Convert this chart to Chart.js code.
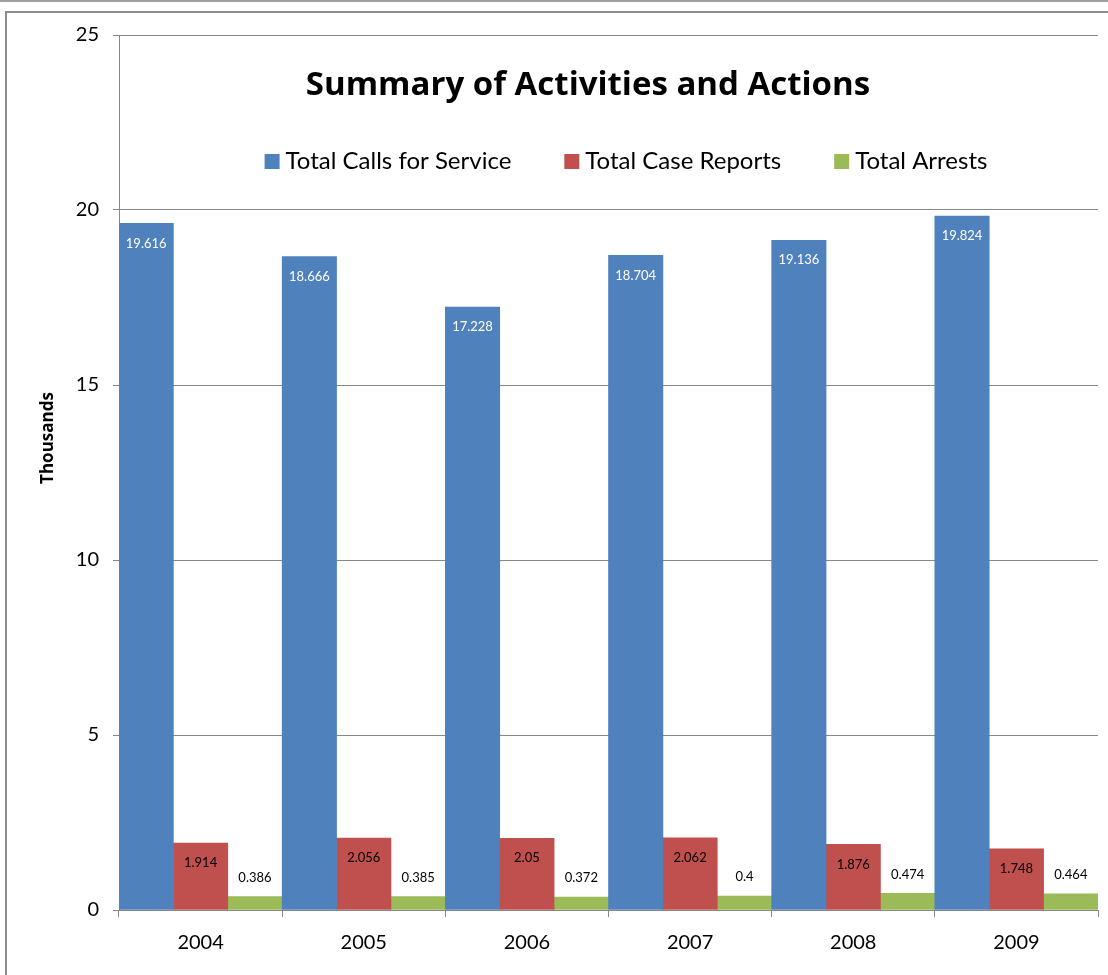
<!DOCTYPE html>
<html>
<head>
<meta charset="utf-8">
<script src="https://cdn.jsdelivr.net/npm/chart.js@4.4.0/dist/chart.umd.min.js"></script>
<style>
    html, body { margin: 0; padding: 0; background: #fff; }
    #wrap { width: 1108px; height: 975px; position: relative; }
</style>
</head>
<body>
<div id="wrap"><canvas id="activityChart" width="1108" height="975"></canvas></div>
<script>
const years = ['2004', '2005', '2006', '2007', '2008', '2009'];
const callsForService = [19.616, 18.666, 17.228, 18.704, 19.136, 19.824];
const caseReports = [1.914, 2.056, 2.05, 2.062, 1.876, 1.748];
const arrests = [0.386, 0.385, 0.372, 0.4, 0.474, 0.464];
const seriesNames = ['Total Calls for Service', 'Total Case Reports', 'Total Arrests'];
const seriesColors = ['#4F81BD', '#C0504D', '#9BBB59'];

const fontFamily = 'Lato, "Open Sans", sans-serif';
const boldFamily = '"Open Sans", Lato, sans-serif';
const gridColor = '#888888';

// frame + labels + in-plot title/legend, drawn by hand like the original
const decorations = {
    id: 'decorations',
    beforeDraw(chart) {
        const ctx = chart.ctx;
        ctx.save();
        ctx.fillStyle = '#fff';
        ctx.fillRect(0, 0, chart.width, chart.height);
        ctx.strokeStyle = '#a0a0a0';
        ctx.lineWidth = 2;
        ctx.beginPath();
        ctx.moveTo(0, 1); ctx.lineTo(chart.width, 1);
        ctx.stroke();
        ctx.strokeStyle = '#8c8c8c';
        ctx.beginPath();
        ctx.moveTo(6, chart.height + 5); ctx.lineTo(6, 12); ctx.lineTo(chart.width + 5, 12);
        ctx.stroke();
        ctx.restore();
    },
    afterDatasetsDraw(chart) {
        const ctx = chart.ctx;
        ctx.save();
        ctx.font = '13px ' + fontFamily;
        ctx.textAlign = 'center';
        ctx.textBaseline = 'middle';
        chart.data.datasets.forEach((ds, i) => {
            chart.getDatasetMeta(i).data.forEach((bar, j) => {
                const v = ds.data[j];
                if (i === 2) {
                    ctx.fillStyle = '#000';
                    ctx.fillText(String(v), bar.x, bar.y - 19);
                } else {
                    ctx.fillStyle = i === 0 ? '#fff' : '#000';
                    ctx.fillText(String(v), bar.x, bar.y + 20);
                }
            });
        });
        ctx.restore();
    },
    afterDraw(chart) {
        const ctx = chart.ctx;
        ctx.save();
        ctx.fillStyle = '#000';
        ctx.textBaseline = 'middle';
        ctx.textAlign = 'center';
        ctx.font = 'bold 33px ' + boldFamily;
        ctx.fillText('Summary of Activities and Actions', 588, 86);

        // legend
        ctx.font = '24px ' + fontFamily;
        ctx.textAlign = 'left';
        const box = 15, gap = 6, spacing = 53;
        let total = 0;
        const widths = seriesNames.map(n => ctx.measureText(n).width);
        widths.forEach((w, i) => { total += box + gap + w + (i < widths.length - 1 ? spacing : 0); });
        let x = 626 - total / 2;
        seriesNames.forEach((n, i) => {
            ctx.fillStyle = seriesColors[i];
            ctx.fillRect(x, 154, box, box);
            ctx.fillStyle = '#000';
            ctx.fillText(n, x + box + gap, 161);
            x += box + gap + widths[i] + spacing;
        });

        // y axis title
        ctx.translate(48, 438);
        ctx.rotate(-Math.PI / 2);
        ctx.textAlign = 'center';
        ctx.font = 'bold 17px ' + boldFamily;
        ctx.fillText('Thousands', 0, 0);
        ctx.restore();
    }
};

const chartCtx = document.getElementById('activityChart').getContext('2d');
const activityChart = new Chart(chartCtx, {
    type: 'bar',
    data: {
        labels: years,
        datasets: [
            { label: seriesNames[0], data: callsForService, backgroundColor: seriesColors[0] },
            { label: seriesNames[1], data: caseReports, backgroundColor: seriesColors[1] },
            { label: seriesNames[2], data: arrests, backgroundColor: seriesColors[2] }
        ]
    },
    options: {
        responsive: false,
        animation: false,
        layout: { padding: { top: 35, right: 10, left: 0, bottom: 0 } },
        datasets: { bar: { categoryPercentage: 1, barPercentage: 1 } },
        plugins: {
            legend: { display: false },
            title: { display: false },
            tooltip: { enabled: false }
        },
        scales: {
            x: {
                grid: { drawOnChartArea: false, drawTicks: true, tickLength: 7, color: gridColor, offset: true },
                border: { color: gridColor, width: 1 },
                ticks: { color: '#000', font: { family: fontFamily, size: 20 }, padding: 14 },
                afterFit(scale) { scale.height = 65; }
            },
            y: {
                min: 0,
                max: 25,
                ticks: { stepSize: 5, color: '#000', font: { family: fontFamily, size: 20 }, padding: 14 },
                grid: { color: gridColor, tickLength: 6 },
                border: { color: gridColor, width: 1 },
                afterFit(scale) { scale.width = 119; }
            }
        }
    },
    plugins: [decorations]
});
</script>
</body>
</html>
